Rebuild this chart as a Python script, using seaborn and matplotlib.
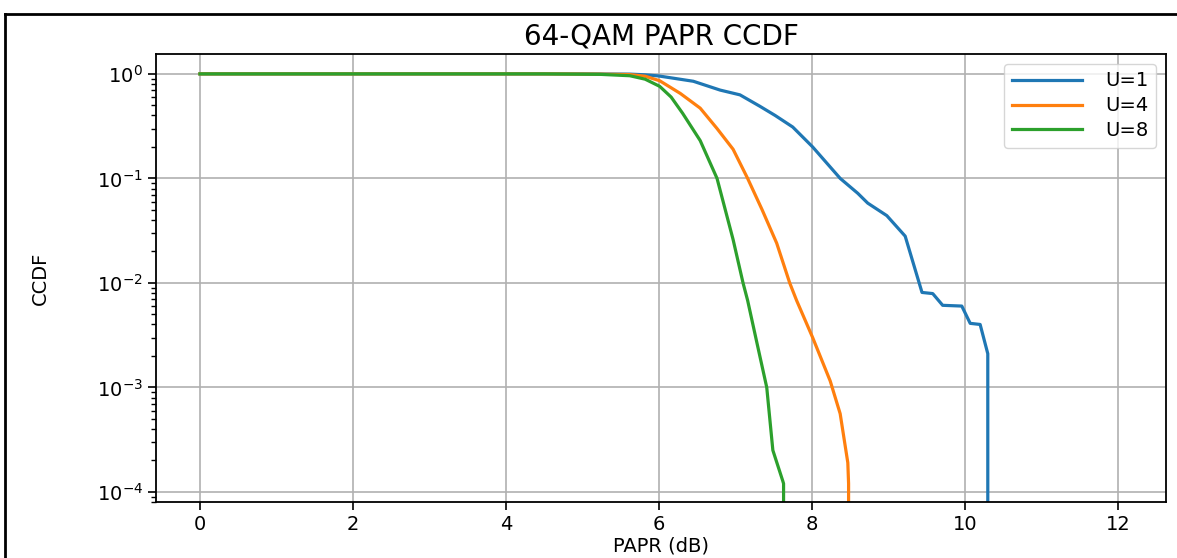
import matplotlib
matplotlib.use("Agg")
import matplotlib.pyplot as plt
from matplotlib.lines import Line2D
import seaborn as sns
import pandas as pd

# CCDF (PAPR in dB)
u1_x = [0.0, 5.0, 5.62, 5.82, 6.0, 6.45, 6.8, 7.06, 7.32, 7.52, 7.75, 8.01, 8.37, 8.6, 8.73,
        8.98, 9.22, 9.44, 9.58, 9.71, 9.96, 10.07, 10.2, 10.3, 10.4]
u1_y = [1.0, 1.0, 0.995, 0.98, 0.955, 0.85, 0.70, 0.63, 0.49, 0.40, 0.31, 0.20, 0.10, 0.072, 0.058,
        0.044, 0.028, 0.0081, 0.0079, 0.0061, 0.006, 0.0041, 0.004, 0.0021, 0.0]

u4_x = [0.0, 4.5, 5.23, 5.62, 5.82, 6.01, 6.28, 6.54, 6.76, 6.97, 7.16, 7.35, 7.54, 7.71, 7.80,
        8.01, 8.24, 8.37, 8.47, 8.48, 8.58]
u4_y = [1.0, 1.0, 0.995, 0.985, 0.95, 0.86, 0.65, 0.47, 0.30, 0.19, 0.10, 0.05, 0.024, 0.01, 0.0068,
        0.003, 0.00115, 5.6e-4, 1.9e-4, 1.2e-4, 0.0]

u8_x = [0.0, 4.5, 5.23, 5.62, 5.82, 6.01, 6.16, 6.31, 6.54, 6.76, 6.97, 7.10, 7.16, 7.28, 7.41,
        7.49, 7.62, 7.63, 7.73]
u8_y = [1.0, 1.0, 0.99, 0.96, 0.89, 0.76, 0.60, 0.42, 0.23, 0.10, 0.026, 0.01, 0.0068, 0.0027, 0.001,
        2.5e-4, 1.27e-4, 1.2e-4, 0.0]

labels = ["U=1", "U=4", "U=8"]

df = pd.concat([
    pd.DataFrame({"papr": u1_x, "ccdf": u1_y, "U": labels[0]}),
    pd.DataFrame({"papr": u4_x, "ccdf": u4_y, "U": labels[1]}),
    pd.DataFrame({"papr": u8_x, "ccdf": u8_y, "U": labels[2]}),
])

fig = plt.figure(figsize=(11.77, 5.58), dpi=100)
ax = fig.add_axes([156 / 1177, 1 - 502 / 558, 1010 / 1177, 448 / 558])

sns.lineplot(data=df, x="papr", y="ccdf", hue="U", hue_order=labels,
             palette=sns.color_palette("tab10", 3), estimator=None, sort=False,
             linewidth=2.3, ax=ax)

ax.set_yscale("log")
ax.set_xlim(-0.575, 12.63)
ax.set_ylim(8e-5, 1.55)
ax.set_xticks([0, 2, 4, 6, 8, 10, 12])
ax.grid(True, which="major", color="#b0b0b0", linewidth=1.2)
ax.tick_params(which="major", labelsize=14, length=6, width=1.2)
ax.tick_params(which="minor", length=3.5, width=1.0)
for s in ax.spines.values():
    s.set_linewidth(1.3)

ax.set_title("64-QAM PAPR CCDF", fontsize=20, pad=7)
ax.set_xlabel("PAPR (dB)", fontsize=14, labelpad=2)
ax.set_ylabel("CCDF", fontsize=14)
ax.yaxis.set_label_coords(-0.105, 0.5)

sns.move_legend(ax, "upper right", title=None, fontsize=14, handlelength=3.6,
                handletextpad=1.2, labelspacing=0.3, borderaxespad=0.5)

# screenshot frame (left and top edges)
fig.add_artist(Line2D([5 / 1177, 5 / 1177], [0, 1 - 14 / 558], transform=fig.transFigure,
                      color="black", linewidth=2))
fig.add_artist(Line2D([5 / 1177, 1], [1 - 14 / 558, 1 - 14 / 558], transform=fig.transFigure,
                      color="black", linewidth=2))

fig.savefig("out.png", dpi=100)
